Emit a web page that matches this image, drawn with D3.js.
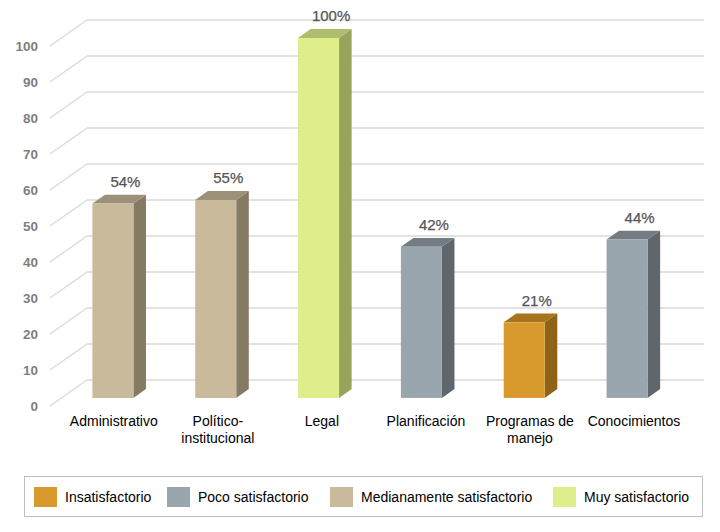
<!DOCTYPE html>
<html>
<head>
<meta charset="utf-8">
<script src="https://cdn.jsdelivr.net/npm/d3@7"></script>
<style>
  html, body { margin: 0; padding: 0; background: #fff; }
  svg { display: block; font-family: "Liberation Sans", Arial, sans-serif; }
</style>
</head>
<body>
<svg id="chart" width="720" height="532"></svg>
<script>
const categories = ["Administrativo", "Político-\ninstitucional", "Legal", "Planificación", "Programas de\nmanejo", "Conocimientos"];
const values = [54, 55, 100, 42, 21, 44];
const ratings = ["Medianamente satisfactorio", "Medianamente satisfactorio", "Muy satisfactorio", "Poco satisfactorio", "Insatisfactorio", "Poco satisfactorio"];
const legendLabels = ["Insatisfactorio", "Poco satisfactorio", "Medianamente satisfactorio", "Muy satisfactorio"];
const yTicks = [0, 10, 20, 30, 40, 50, 60, 70, 80, 90, 100];

const palette = {
  "Insatisfactorio":            { front: "#d89a2c", top: "#a8731d", side: "#8f6317" },
  "Poco satisfactorio":         { front: "#9aa6ae", top: "#737c82", side: "#5f676c" },
  "Medianamente satisfactorio": { front: "#c9ba9c", top: "#9d9078", side: "#857a64" },
  "Muy satisfactorio":          { front: "#dfee8b", top: "#aebd6c", side: "#98a45a" }
};

const svg = d3.select("#chart");

// back wall scales
const y = d3.scaleLinear().domain([0, 100]).range([380, 20]);
const x = d3.scaleBand().domain(categories).range([87, 704]);
const DX = -37, DY = 26;           // depth vector back -> front
const proj = (px, v, d) => [px + DX * d, y(v) + DY * d];

const dFront = 0.69, dBack = 0.35, barW = 41;

// gridlines: back wall + left side diagonals
const grid = svg.append("g").attr("stroke", "#d9d9d9").attr("stroke-width", 1.3).attr("fill", "none");
yTicks.forEach(t => {
  grid.append("line").attr("x1", x.range()[0]).attr("x2", x.range()[1])
    .attr("y1", y(t)).attr("y2", y(t));
  const p = proj(x.range()[0], t, 1);
  grid.append("line").attr("x1", p[0]).attr("y1", p[1])
    .attr("x2", x.range()[0]).attr("y2", y(t));
});

// tick labels
svg.append("g").selectAll("text").data(yTicks).join("text")
  .attr("x", 38).attr("y", d => proj(0, d, 1)[1])
  .attr("dy", "0.36em").attr("text-anchor", "end")
  .attr("font-size", 13.5).attr("font-weight", "bold").attr("fill", "#7f7f7f")
  .text(d => d);

// bars
const bars = svg.append("g");
categories.forEach((c, i) => {
  const v = values[i];
  const col = palette[ratings[i]];
  const cx = x(c) + x.bandwidth() / 2;
  const L = cx - barW / 2, R = cx + barW / 2;
  const pts = a => a.map(p => p.join(",")).join(" ");
  // side
  bars.append("polygon").attr("fill", col.side)
    .attr("points", pts([proj(R, v, dFront), proj(R, v, dBack), proj(R, 0, dBack), proj(R, 0, dFront)]));
  // top
  bars.append("polygon").attr("fill", col.top)
    .attr("points", pts([proj(L, v, dFront), proj(R, v, dFront), proj(R, v, dBack), proj(L, v, dBack)]));
  // front
  const f0 = proj(L, v, dFront), f1 = proj(R, 0, dFront);
  bars.append("rect").attr("fill", col.front)
    .attr("x", f0[0]).attr("y", f0[1]).attr("width", f1[0] - f0[0]).attr("height", f1[1] - f0[1]);
  // value label
  const lp = proj(cx, v, dBack);
  bars.append("text").attr("x", lp[0]).attr("y", lp[1] - 8)
    .attr("text-anchor", "middle").attr("font-size", 15).attr("fill", "#555555")
    .attr("stroke", "#555555").attr("stroke-width", 0.25)
    .text(v + "%");
  // category label
  const cp = proj(cx, 0, 0.6);
  const t = bars.append("text").attr("text-anchor", "middle").attr("font-size", 14).attr("fill", "#000");
  c.split("\n").forEach((line, k) => {
    t.append("tspan").attr("x", cp[0] + (i - 2) * 1.2).attr("y", 426 + k * 17).text(line);
  });
});

// legend
const lg = svg.append("g");
lg.append("rect").attr("x", 24.5).attr("y", 476.5).attr("width", 678).attr("height", 40)
  .attr("fill", "#fff").attr("stroke", "#bfbfbf").attr("stroke-width", 1);
const swatchX = [34, 167, 330, 553];
legendLabels.forEach((l, i) => {
  lg.append("rect").attr("x", swatchX[i]).attr("y", 487).attr("width", 23).attr("height", 20)
    .attr("fill", palette[l].front);
  lg.append("text").attr("x", swatchX[i] + 31).attr("y", 497).attr("dy", "0.36em")
    .attr("font-size", 14).attr("fill", "#000").text(l);
});
</script>
</body>
</html>
